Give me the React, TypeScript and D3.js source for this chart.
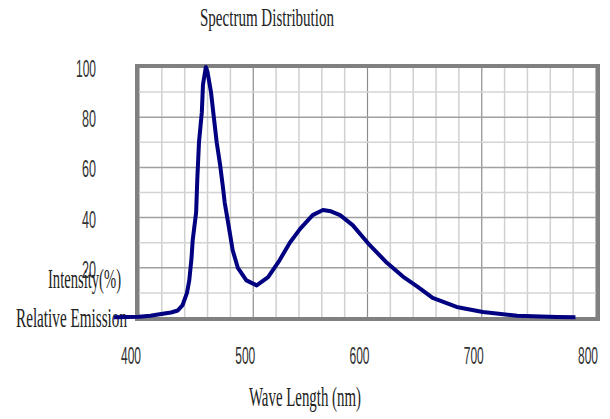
import { useRef, useEffect } from "react";
import * as d3 from "d3";

const wavelengths = [
  378, 390, 400, 410, 418, 428, 434, 438, 442, 444, 446, 447, 450, 451, 452.5,
  455, 456, 458.5, 460, 463, 465.5, 468, 471, 473.5, 475, 478, 482, 486.5, 494,
  503, 513, 523, 532, 541, 552, 561, 568, 576, 587, 602, 617, 631, 644, 657,
  678, 701, 731, 766, 782,
];
const intensities = [
  0.3, 0.4, 0.5, 0.9, 1.5, 2.2, 3.0, 5, 10, 15, 24, 31, 42, 55, 70, 82, 93, 100,
  98, 90, 80, 70, 61, 52, 46, 38, 27, 20, 15, 13, 16.3, 23, 30, 35.5, 41, 43,
  42.5, 41, 37, 29, 22, 16.5, 12.4, 8, 4.4, 2.4, 0.9, 0.4, 0.3,
];
const xTickLabels = [400, 500, 600, 700, 800];
const yTickLabels = [20, 40, 60, 80, 100];

const W = 610;
const H = 419;

const SpectrumChart = () => {
  const ref = useRef<SVGSVGElement>(null);

  useEffect(() => {
    const svg = d3.select(ref.current);
    svg.selectAll("*").remove();

    const left = 139;
    const right = 596;
    const top = 67;
    const bottom = 318;

    const x = d3.scaleLinear().domain([400, 800]).range([left, right]);
    const y = d3.scaleLinear().domain([0, 100]).range([bottom, top]);

    svg.append("rect").attr("width", W).attr("height", H).attr("fill", "#fff");

    // grid
    const grid = svg.append("g");
    grid
      .selectAll("line.vx")
      .data(d3.range(400, 801, 20))
      .enter()
      .append("line")
      .attr("x1", (d) => x(d))
      .attr("x2", (d) => x(d))
      .attr("y1", top)
      .attr("y2", bottom)
      .attr("stroke", (d) => (d % 100 === 0 ? "#8c8c8c" : "#d0d0d0"))
      .attr("stroke-width", (d) => (d % 100 === 0 ? 1.2 : 1.5));
    grid
      .selectAll("line.hy")
      .data(d3.range(0, 101, 10))
      .enter()
      .append("line")
      .attr("x1", left)
      .attr("x2", right)
      .attr("y1", (d) => y(d))
      .attr("y2", (d) => y(d))
      .attr("stroke", (d) => (d % 20 === 0 ? "#a0a0a0" : "#d4d4d4"))
      .attr("stroke-width", 1.5);

    // frame
    svg
      .append("rect")
      .attr("x", left - 2)
      .attr("y", top - 1)
      .attr("width", right - left + 4)
      .attr("height", bottom - top + 2)
      .attr("fill", "none")
      .attr("stroke", "#808080")
      .attr("stroke-width", 4);

    // tick labels
    svg
      .selectAll("text.yt")
      .data(yTickLabels)
      .enter()
      .append("text")
      .attr("x", 96)
      .attr("y", (d) => y(d) + 10)
      .attr("text-anchor", "end")
      .attr("font-family", "Liberation Sans, Arial, sans-serif")
      .attr("font-size", 23)
      .attr("fill", "#333")
      .attr("textLength", (d) => (d === 100 ? 20 : 14))
      .attr("lengthAdjust", "spacingAndGlyphs")
      .text((d) => d);

    svg
      .selectAll("text.xt")
      .data(xTickLabels)
      .enter()
      .append("text")
      .attr("x", (d) => x(d) - 8)
      .attr("y", 364)
      .attr("text-anchor", "middle")
      .attr("font-family", "Liberation Sans, Arial, sans-serif")
      .attr("font-size", 23)
      .attr("fill", "#333")
      .attr("textLength", 20)
      .attr("lengthAdjust", "spacingAndGlyphs")
      .text((d) => d);

    const serif = "Liberation Serif, Times New Roman, serif";
    const label = (t: string, lx: number, ly: number, len: number, size: number) =>
      svg
        .append("text")
        .attr("x", lx)
        .attr("y", ly)
        .attr("font-family", serif)
        .attr("font-size", size)
        .attr("fill", "#222")
        .attr("textLength", len)
        .attr("lengthAdjust", "spacingAndGlyphs")
        .text(t);

    label("Spectrum Distribution", 200, 26, 134, 26);
    label("Intensity(%)", 48, 288, 73, 28);
    label("Relative Emission", 16, 327, 111, 27);
    label("Wave Length (nm)", 249, 406, 112, 28);

    // curve
    const pts = wavelengths.map((w, i) => [w, intensities[i]] as [number, number]);
    const line = d3
      .line<[number, number]>()
      .x((d) => x(d[0]))
      .y((d) => y(d[1]));
    svg
      .append("path")
      .attr("d", line(pts))
      .attr("fill", "none")
      .attr("stroke", "#000080")
      .attr("stroke-width", 4)
      .attr("stroke-linejoin", "round");
  }, []);

  return (
    <svg
      ref={ref}
      width={W}
      height={H}
      style={{ position: "absolute", left: 0, top: 0 }}
    ></svg>
  );
};

export default function App() {
  return <SpectrumChart />;
}
